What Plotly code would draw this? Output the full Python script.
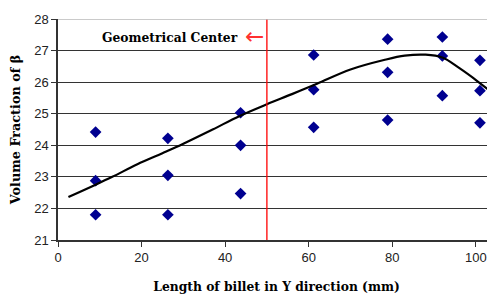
import plotly.graph_objects as go

# Measured points
pos_x = [9, 9, 9, 26.3, 26.3, 26.3, 43.7, 43.7, 43.7, 61.2, 61.2, 61.2,
         78.9, 78.9, 78.9, 92, 92, 92, 101, 101, 101]
beta = [24.42, 22.88, 21.8, 24.22, 23.05, 21.8, 25.03, 24.0, 22.47,
        26.86, 25.76, 24.57, 27.36, 26.31, 24.8, 27.43, 26.83, 25.57,
        26.69, 25.73, 24.71]

# Trend line
trend_x = [2.5, 9, 13, 19, 25, 30, 37, 43.5, 50, 56, 62, 70, 78, 83, 88, 92, 96, 100.5, 104.5]
trend_y = [22.36, 22.75, 23.0, 23.4, 23.75, 24.05, 24.5, 24.93, 25.3, 25.62, 25.95,
           26.4, 26.7, 26.84, 26.87, 26.78, 26.45, 26.02, 25.6]

center_x = 50
x_ticks = [0, 20, 40, 60, 80, 100]
y_ticks = [21, 22, 23, 24, 25, 26, 27, 28]

serif = "DejaVu Serif"
sans = "Liberation Sans"

fig = go.Figure()
fig.add_trace(go.Scatter(x=pos_x, y=beta, mode="markers",
                         marker=dict(symbol="diamond", size=9, color="#000090"),
                         showlegend=False))
fig.add_trace(go.Scatter(x=trend_x, y=trend_y, mode="lines", line_shape="spline",
                         line=dict(color="black", width=2.2), showlegend=False))

fig.add_shape(type="line", x0=center_x, x1=center_x, y0=21, y1=28, xref="x", yref="y",
              line=dict(color="#ff0000", width=1.3))
fig.add_shape(type="line", x0=0, x1=1, xref="paper", y0=28, y1=28, yref="y",
              line=dict(color="#b8b8b8", width=1.5))

fig.add_annotation(x=10, y=27.43, xref="x", yref="y", text="<b>Geometrical Center</b>",
                   showarrow=False, font=dict(family=serif, size=12.3, color="black"),
                   xanchor="left", yanchor="middle")
fig.add_annotation(x=center_x - 0.2, y=27.45, xref="x", yref="y", text="←", showarrow=False,
                   font=dict(family="DejaVu Sans", size=23, color="#ff3030"),
                   xanchor="right", yanchor="middle")

fig.update_layout(
    width=487, height=290,
    margin=dict(l=50, r=0, t=11, b=58),
    paper_bgcolor="white", plot_bgcolor="white",
    font=dict(family=sans, size=13, color="#222"),
    xaxis=dict(range=[0, 104.6], tickvals=x_ticks, ticks="outside", ticklen=5,
               tickcolor="#333", showgrid=False, showline=True, linecolor="#333",
               linewidth=1.5, zeroline=False, automargin=False,
               tickfont=dict(family=sans, size=13, color="#222"),
               title=dict(text="<b>Length of billet in Y direction (mm)</b>",
                          font=dict(family=serif, size=12.3, color="black"), standoff=18)),
    yaxis=dict(range=[21, 28], tickvals=y_ticks, ticks="outside", ticklen=5,
               tickcolor="#333", showgrid=True, gridcolor="#333", gridwidth=1.2,
               showline=True, linecolor="#333", linewidth=1.5, zeroline=False,
               automargin=False,
               tickfont=dict(family=sans, size=13, color="#222"),
               title=dict(text="<b>Volume Fraction of β</b>",
                          font=dict(family=serif, size=12.8, color="black"), standoff=12)),
)

fig.write_html("out.html")
